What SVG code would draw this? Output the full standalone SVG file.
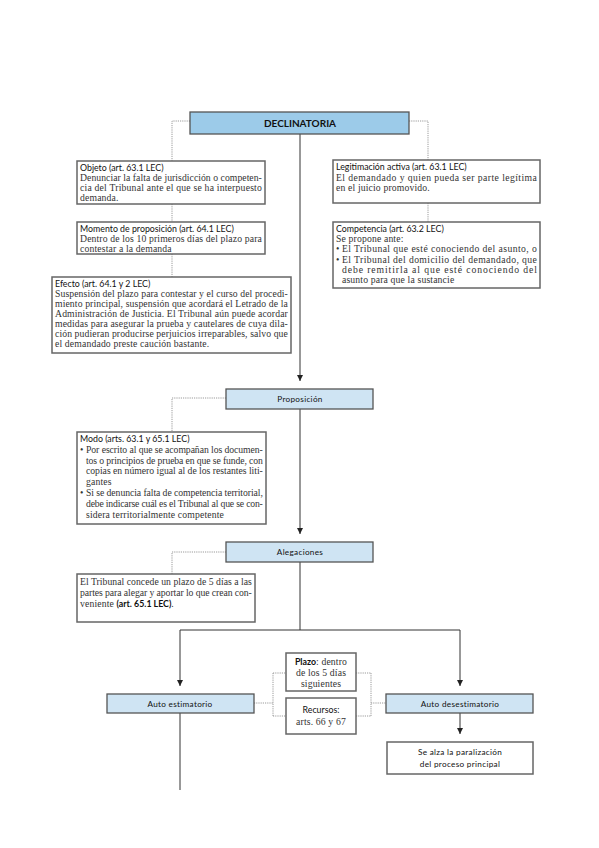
<svg xmlns="http://www.w3.org/2000/svg" width="599" height="848" viewBox="0 0 599 848">
<style>
.bg{fill:#ffffff}
.blue{fill:#cfe4f3;stroke:#555;stroke-width:1.3}
.blue2{fill:#9ccbe9;stroke:#555;stroke-width:1.3}
.box{fill:#ffffff;stroke:#666;stroke-width:1.5}
.conn{fill:none;stroke:#333;stroke-width:1}
.dot{fill:none;stroke:#9a9a9a;stroke-width:1;stroke-dasharray:1.2 1}
.h{font-family:Lato,"Open Sans",sans-serif;font-size:8.8px;fill:#111;letter-spacing:0}
.lbl{font-family:Lato,"Open Sans",sans-serif;font-size:8.2px;fill:#111;letter-spacing:0.3px}
.t{font-family:"Liberation Serif",serif;font-size:9.7px;fill:#333;letter-spacing:0.15px}
.title{font-family:Lato,"Open Sans",sans-serif;font-size:10px;font-weight:bold;fill:#111}
</style>
<defs>
<marker id="arr" markerUnits="userSpaceOnUse" markerWidth="7" markerHeight="7" refX="6" refY="3.5" orient="auto">
<path d="M0,0.5 L6,3.5 L0,6.5 z" fill="#222"/>
</marker>
</defs>
<rect class="bg" x="0" y="0" width="599" height="848"/>

<g id="connectors">
<path class="conn" d="M300,134 V381" marker-end="url(#arr)"/>
<path class="conn" d="M300,409 V534" marker-end="url(#arr)"/>
<path class="conn" d="M300,562 V630 M180,630 H460"/>
<path class="conn" d="M180,630 V686" marker-end="url(#arr)"/>
<path class="conn" d="M460,630 V686" marker-end="url(#arr)"/>
<path class="conn" d="M460,713 V734" marker-end="url(#arr)"/>
<path class="conn" d="M180,713 V790"/>
<path class="dot" d="M190,121 H172 V161"/>
<path class="dot" d="M172,204 V222"/>
<path class="dot" d="M172,254 V277"/>
<path class="dot" d="M409,121 H428 V160"/>
<path class="dot" d="M428,203 V222"/>
<path class="dot" d="M226,398 H172 V432"/>
<path class="dot" d="M226,552 H172 V574"/>
<path class="dot" d="M254,703 H273 M273,673 V716 M273,673 H286 M273,716 H286"/>
<path class="dot" d="M356,673 H371 M356,716 H371 M371,673 V716 M371,703 H386"/>
</g>

<g id="declinatoria">
<rect class="blue2" x="190" y="112" width="219" height="22"/>
<text class="title" x="300" y="126.5" text-anchor="middle">DECLINATORIA</text>
</g>

<g id="objeto">
<rect class="box" x="77" y="161" width="188" height="43"/>
<text class="h" x="80" y="171">Objeto (art. 63.1 LEC)</text>
<text class="t" x="80" y="181" textLength="182" lengthAdjust="spacing">Denunciar la falta de jurisdicción o competen-</text>
<text class="t" x="80" y="191" textLength="182" lengthAdjust="spacing">cia del Tribunal ante el que se ha interpuesto</text>
<text class="t" x="80" y="201">demanda.</text>
</g>

<g id="momento">
<rect class="box" x="77" y="222" width="188" height="32"/>
<text class="h" x="80" y="232">Momento de proposición (art. 64.1 LEC)</text>
<text class="t" x="80" y="242" textLength="182" lengthAdjust="spacing">Dentro de los 10 primeros días del plazo para</text>
<text class="t" x="80" y="252">contestar a la demanda</text>
</g>

<g id="efecto">
<rect class="box" x="52" y="277" width="239" height="76"/>
<text class="h" x="55" y="287">Efecto (art. 64.1 y 2 LEC)</text>
<text class="t" x="55" y="297" textLength="233" lengthAdjust="spacing">Suspensión del plazo para contestar y el curso del procedi-</text>
<text class="t" x="55" y="307" textLength="233" lengthAdjust="spacing">miento principal, suspensión que acordará el Letrado de la</text>
<text class="t" x="55" y="317" textLength="233" lengthAdjust="spacing">Administración de Justicia. El Tribunal aún puede acordar</text>
<text class="t" x="55" y="327" textLength="233" lengthAdjust="spacing">medidas para asegurar la prueba y cautelares de cuya dila-</text>
<text class="t" x="55" y="337" textLength="233" lengthAdjust="spacing">ción pudieran producirse perjuicios irreparables, salvo que</text>
<text class="t" x="55" y="347">el demandado preste caución bastante.</text>
</g>

<g id="legitimacion">
<rect class="box" x="333" y="160" width="207" height="43"/>
<text class="h" x="336" y="170">Legitimación activa (art. 63.1 LEC)</text>
<text class="t" x="336" y="181" textLength="201" lengthAdjust="spacing">El demandado y quien pueda ser parte legítima</text>
<text class="t" x="336" y="191">en el juicio promovido.</text>
</g>

<g id="competencia">
<rect class="box" x="333" y="222" width="207" height="66"/>
<text class="h" x="336" y="232">Competencia (art. 63.2 LEC)</text>
<text class="t" x="336" y="242">Se propone ante:</text>
<text class="t" x="336" y="252">•</text>
<text class="t" x="342" y="252" textLength="195" lengthAdjust="spacing">El Tribunal que esté conociendo del asunto, o</text>
<text class="t" x="336" y="263">•</text>
<text class="t" x="342" y="263" textLength="195" lengthAdjust="spacing">El Tribunal del domicilio del demandado, que</text>
<text class="t" x="342" y="273" textLength="195" lengthAdjust="spacing">debe remitirla al que esté conociendo del</text>
<text class="t" x="342" y="283">asunto para que la sustancie</text>
</g>

<g id="proposicion">
<rect class="blue" x="226" y="389" width="147" height="20"/>
<text class="lbl" x="300" y="402" text-anchor="middle">Proposición</text>
</g>

<g id="modo">
<rect class="box" x="77" y="432" width="189" height="92"/>
<text class="h" x="80" y="442">Modo (arts. 63.1 y 65.1 LEC)</text>
<text class="t" x="80" y="453">•</text>
<text class="t" x="86" y="453" textLength="177" lengthAdjust="spacing">Por escrito al que se acompañan los documen-</text>
<text class="t" x="86" y="464" textLength="177" lengthAdjust="spacing">tos o principios de prueba en que se funde, con</text>
<text class="t" x="86" y="474" textLength="177" lengthAdjust="spacing">copias en número igual al de los restantes liti-</text>
<text class="t" x="86" y="485">gantes</text>
<text class="t" x="80" y="496">•</text>
<text class="t" x="86" y="496" textLength="177" lengthAdjust="spacing">Si se denuncia falta de competencia territorial,</text>
<text class="t" x="86" y="507" textLength="177" lengthAdjust="spacing">debe indicarse cuál es el Tribunal al que se con-</text>
<text class="t" x="86" y="518">sidera territorialmente competente</text>
</g>

<g id="alegaciones">
<rect class="blue" x="226" y="542" width="147" height="20"/>
<text class="lbl" x="300" y="555" text-anchor="middle">Alegaciones</text>
</g>

<g id="tribunal">
<rect class="box" x="77" y="574" width="178" height="48"/>
<text class="t" x="80" y="585" textLength="172" lengthAdjust="spacing">El Tribunal concede un plazo de 5 días a las</text>
<text class="t" x="80" y="596" textLength="172" lengthAdjust="spacing">partes para alegar y aportar lo que crean con-</text>
<text class="t" x="80" y="607">veniente <tspan class="h" font-weight="bold">(art. 65.1 LEC)</tspan>.</text>
</g>

<g id="auto-estimatorio">
<rect class="blue" x="107" y="694" width="147" height="19"/>
<text class="lbl" x="180" y="706.5" text-anchor="middle">Auto estimatorio</text>
</g>

<g id="auto-desestimatorio">
<rect class="blue" x="386" y="694" width="147" height="19"/>
<text class="lbl" x="460" y="706.5" text-anchor="middle">Auto desestimatorio</text>
</g>

<g id="plazo">
<rect class="box" x="286" y="653" width="70" height="38"/>
<text class="t" x="321" y="665" text-anchor="middle"><tspan class="h" font-weight="bold">Plazo</tspan>: dentro</text>
<text class="t" x="321" y="676" text-anchor="middle">de los 5 días</text>
<text class="t" x="321" y="687" text-anchor="middle">siguientes</text>
</g>

<g id="recursos">
<rect class="box" x="286" y="698" width="70" height="36"/>
<text class="h" x="321" y="713" text-anchor="middle">Recursos:</text>
<text class="t" x="321" y="725" text-anchor="middle">arts. 66 y 67</text>
</g>

<g id="se-alza">
<rect class="box" x="387" y="742" width="146" height="32"/>
<text class="lbl" x="460" y="755" text-anchor="middle">Se alza la paralización</text>
<text class="lbl" x="460" y="767" text-anchor="middle">del proceso principal</text>
</g>
</svg>
